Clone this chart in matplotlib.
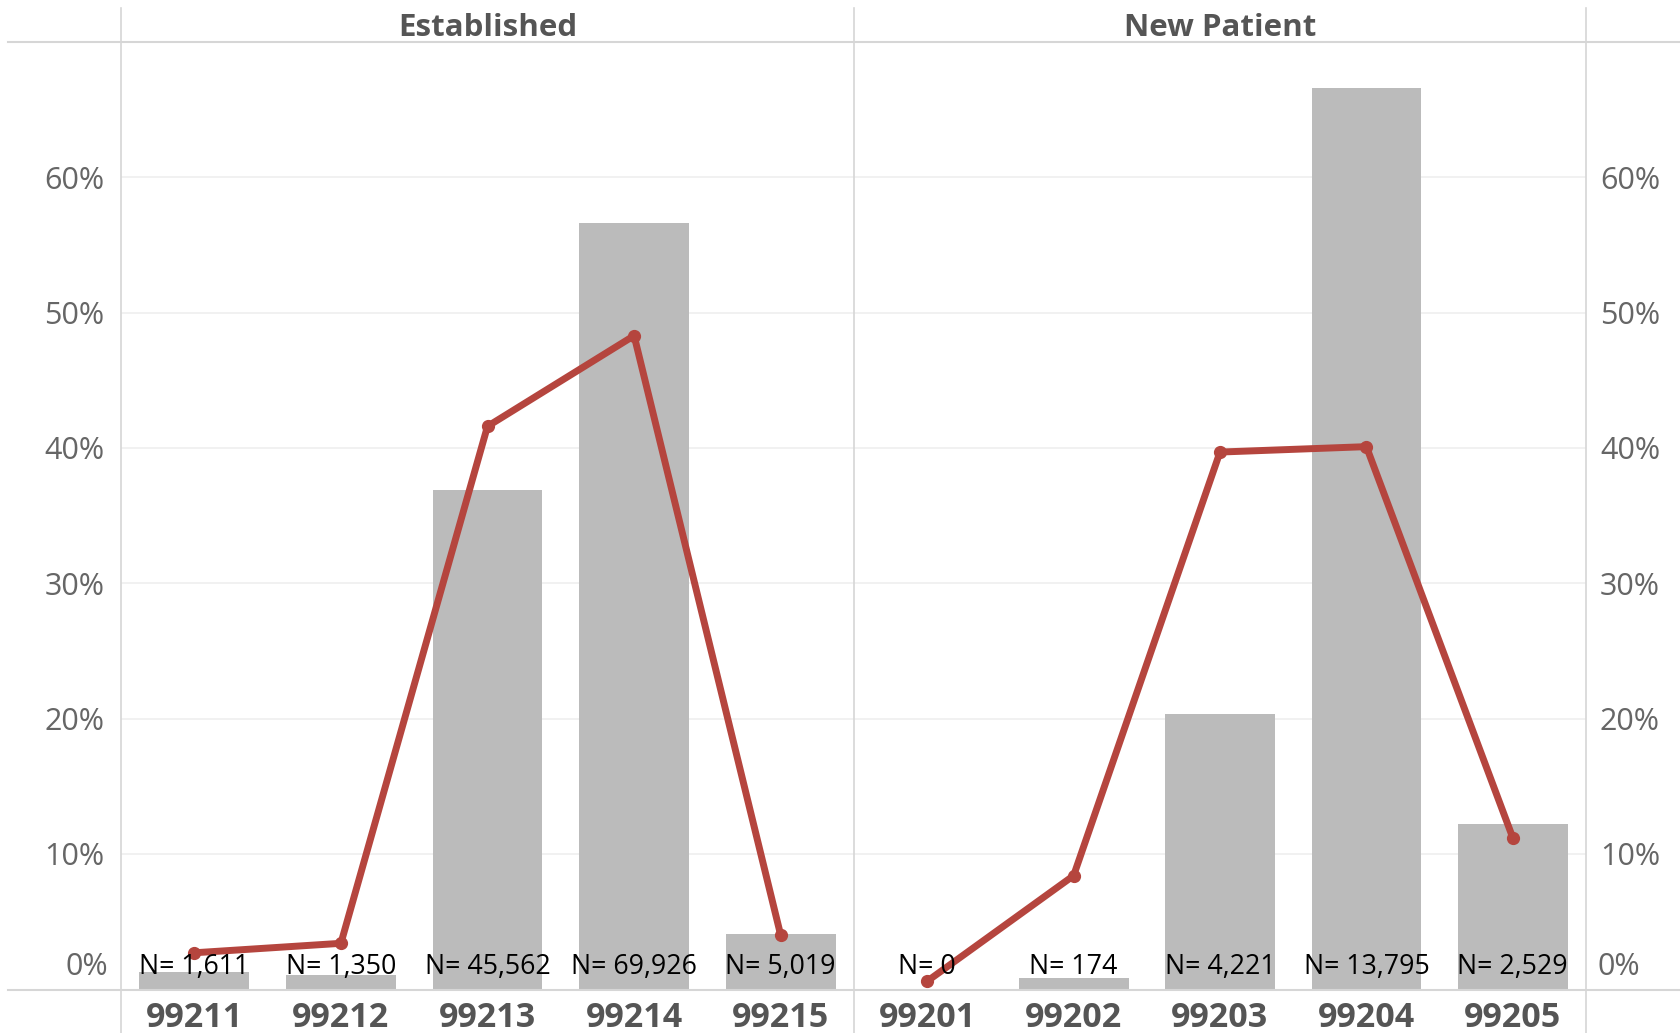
import matplotlib.pyplot as plt
from matplotlib.lines import Line2D

plt.rcParams['font.family'] = ['Open Sans', 'DejaVu Sans']

# panels and categories
panels = ['Established', 'New Patient']
codes_est = ['99211', '99212', '99213', '99214', '99215']
codes_new = ['99201', '99202', '99203', '99204', '99205']

# patient counts shown under each bar
n_est = [1611, 1350, 45562, 69926, 5019]
n_new = [0, 174, 4221, 13795, 2529]

# bar values (% of patients)
bar_est = [1.30, 1.09, 36.90, 56.63, 4.07]
bar_new = [0.00, 0.84, 20.37, 66.58, 12.21]

# line values (%)
line_est = [2.7, 3.4, 41.6, 48.3, 4.0]
line_new = [0.6, 8.4, 39.7, 40.1, 11.2]

BAR_COLOR = '#BBBBBB'
LINE_COLOR = '#B5453E'
GRID_COLOR = '#EFEFEF'
BORDER_COLOR = '#D6D6D6'
TEXT_GREY = '#666666'
LABEL_GREY = '#555555'

W, H = 1680, 1033
fig = plt.figure(figsize=(W / 100, H / 100), dpi=100)

left_px = [121, 854]
right_px = [854, 1586]
top_px, bottom_px = 42, 990

data = [(codes_est, n_est, bar_est, line_est), (codes_new, n_new, bar_new, line_new)]
yticks = [10, 20, 30, 40, 50, 60]

axes = []
for i, (codes, counts, bars, line) in enumerate(data):
    x0 = left_px[i] / W
    w = (right_px[i] - left_px[i]) / W
    y0 = 1 - bottom_px / H
    h = (bottom_px - top_px) / H
    ax = fig.add_axes([x0, y0, w, h])
    axes.append(ax)
    xs = list(range(len(codes)))
    ax.bar(xs, bars, width=0.75, color=BAR_COLOR, zorder=2)
    ax.plot(xs, line, color=LINE_COLOR, lw=5, marker='o', ms=8.5,
            solid_capstyle='round', zorder=3)
    for x, n in zip(xs, counts):
        ax.annotate(f'N= {n:,}', xy=(x, 0), xytext=(0, 6), textcoords='offset points',
                    ha='center', va='bottom', fontsize=19.3, color='black', zorder=5)
    ax.set_xlim(-0.5, len(codes) - 0.5)
    ax.set_ylim(-0.05, 70)
    ax.set_xticks(xs)
    ax.set_xticklabels(codes, fontsize=24.5, fontweight='bold', color=LABEL_GREY)
    ax.tick_params(axis='x', length=0, pad=8)
    ax.set_yticks(yticks)
    for y in yticks:
        ax.axhline(y, color=GRID_COLOR, lw=1.2, zorder=1)
    for s in ax.spines.values():
        s.set_visible(False)
    # panel header
    fig.text(x0 + w / 2, 1 - 28 / H, panels[i], ha='center', va='center',
             fontsize=22.5, fontweight='bold', color=LABEL_GREY)

# y labels on the outer sides
axes[0].set_yticklabels([f'{t}%' for t in yticks], fontsize=22, color=TEXT_GREY)
axes[0].tick_params(axis='y', length=0, pad=12)
axes[0].annotate('0%', xy=(0, 0), xycoords=('axes fraction', 'data'), xytext=(-9, 5),
                 textcoords='offset points', ha='right', va='bottom', fontsize=22, color=TEXT_GREY)
axes[1].yaxis.tick_right()
axes[1].set_yticklabels([f'{t}%' for t in yticks], fontsize=22, color=TEXT_GREY)
axes[1].tick_params(axis='y', length=0, pad=10)
axes[1].annotate('0%', xy=(1, 0), xycoords=('axes fraction', 'data'), xytext=(8, 5),
                 textcoords='offset points', ha='left', va='bottom', fontsize=22, color=TEXT_GREY)

# frame lines around headers and panels
for ypx in (top_px, bottom_px):
    fig.add_artist(Line2D([8 / W, 1], [1 - ypx / H] * 2, color=BORDER_COLOR, lw=1.5))
for xpx in (121, 854, 1586):
    fig.add_artist(Line2D([xpx / W] * 2, [0, 1 - 8 / H], color=BORDER_COLOR, lw=1.2))

fig.savefig('out.png', dpi=100, facecolor='white')
